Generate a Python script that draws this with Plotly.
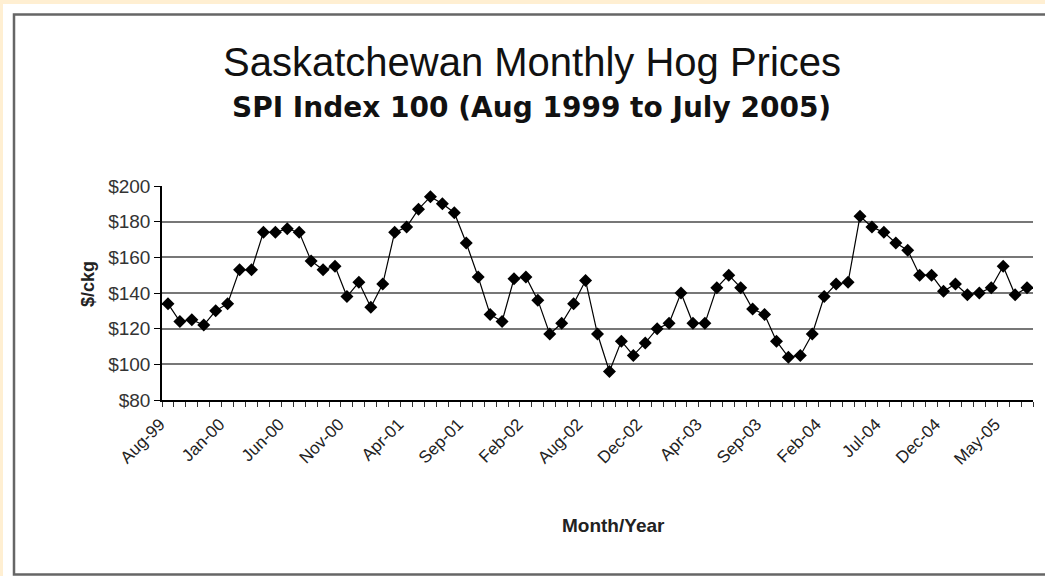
import plotly.graph_objects as go

# ---- data ----
prices = [134, 124, 125, 122, 130, 134, 153, 153, 174, 174,
          176, 174, 158, 153, 155, 138, 146, 132, 145, 174,
          177, 187, 194, 190, 185, 168, 149, 128, 124, 148,
          149, 136, 117, 123, 134, 147, 117, 96, 113, 105,
          112, 120, 123, 140, 123, 123, 143, 150, 143, 131,
          128, 113, 104, 105, 117, 138, 145, 146, 183, 177,
          174, 168, 164, 150, 150, 141, 145, 139, 140, 143,
          155, 139, 143]
tick_labels = ["Aug-99", "Jan-00", "Jun-00", "Nov-00", "Apr-01", "Sep-01", "Feb-02",
               "Aug-02", "Dec-02", "Apr-03", "Sep-03", "Feb-04", "Jul-04", "Dec-04", "May-05"]
label_step = 5
y_ticks = [80, 100, 120, 140, 160, 180, 200]

positions = list(range(len(prices)))

W, H = 1045, 576
L, R, T, B = 162, 12, 186, 176
PW, PH = W - L - R, H - T - B

def px(x):
    return (x - L) / PW

def py(y):
    return (H - B - y) / PH

fig = go.Figure()
fig.add_trace(go.Scatter(
    x=positions, y=prices, mode="lines+markers",
    line=dict(color="black", width=1.2),
    marker=dict(symbol="diamond", size=10, color="black"),
    showlegend=False,
))

font_main = "Liberation Sans, Arial, sans-serif"

fig.update_layout(
    width=W, height=H,
    margin=dict(l=L, r=R, t=T, b=B, pad=0),
    paper_bgcolor="#FFEFD2",
    plot_bgcolor="white",
    xaxis=dict(
        range=[-0.5, len(prices) - 0.5],
        tickmode="array",
        tickvals=positions[::label_step],
        ticktext=tick_labels,
        tickangle=-45,
        ticks="",
        ticklabelshift=-8,
        ticklabelstandoff=6,
        showgrid=False,
        showline=True, linecolor="black", linewidth=1.5,
        tickfont=dict(family=font_main, size=17, color="#222"),
        minor=dict(tickmode="linear", tick0=-0.5, dtick=1, ticks="outside",
                   ticklen=5, tickcolor="#333", tickwidth=1, showgrid=False),
        zeroline=False,
    ),
    yaxis=dict(
        range=[80, 200],
        tickmode="array",
        tickvals=y_ticks,
        ticktext=["$%d" % v for v in y_ticks],
        ticks="outside", ticklen=6, tickcolor="black", tickwidth=1,
        showgrid=True, gridcolor="#777", gridwidth=1.8,
        showline=True, linecolor="black", linewidth=1.5,
        tickfont=dict(family=font_main, size=19, color="#333"),
        zeroline=False,
    ),
    shapes=[
        dict(type="rect", xref="paper", yref="paper", layer="below",
             x0=px(3), x1=px(W + 10), y0=py(H + 10), y1=py(4),
             fillcolor="white", line=dict(width=0)),
        dict(type="rect", xref="paper", yref="paper", layer="below",
             x0=px(14), x1=px(W + 10), y0=py(574.5), y1=py(14.5),
             fillcolor="rgba(0,0,0,0)", line=dict(color="#666", width=2.5)),
    ],
    annotations=[
        dict(text="Saskatchewan Monthly Hog Prices", xref="paper", yref="paper",
             x=px(532), y=py(62), showarrow=False, xanchor="center", yanchor="middle",
             font=dict(family=font_main, size=40, color="#111")),
        dict(text="<b>SPI Index 100 (Aug 1999 to July 2005)</b>", xref="paper", yref="paper",
             x=px(531), y=py(107), showarrow=False, xanchor="center", yanchor="middle",
             font=dict(family="DejaVu Sans, sans-serif", size=28, color="#111")),
        dict(text="<b>Month/Year</b>", xref="paper", yref="paper",
             x=px(613), y=py(525), showarrow=False, xanchor="center", yanchor="middle",
             font=dict(family=font_main, size=19, color="#222")),
        dict(text="<b>$/ckg</b>", xref="paper", yref="paper", textangle=-90,
             x=px(88), y=py(284), showarrow=False, xanchor="center", yanchor="middle",
             font=dict(family=font_main, size=18, color="#222")),
    ],
)

fig.write_html("out.html", config={"displayModeBar": False},
               post_script="document.body.style.margin='0';document.body.style.background='#FFEFD2';")
